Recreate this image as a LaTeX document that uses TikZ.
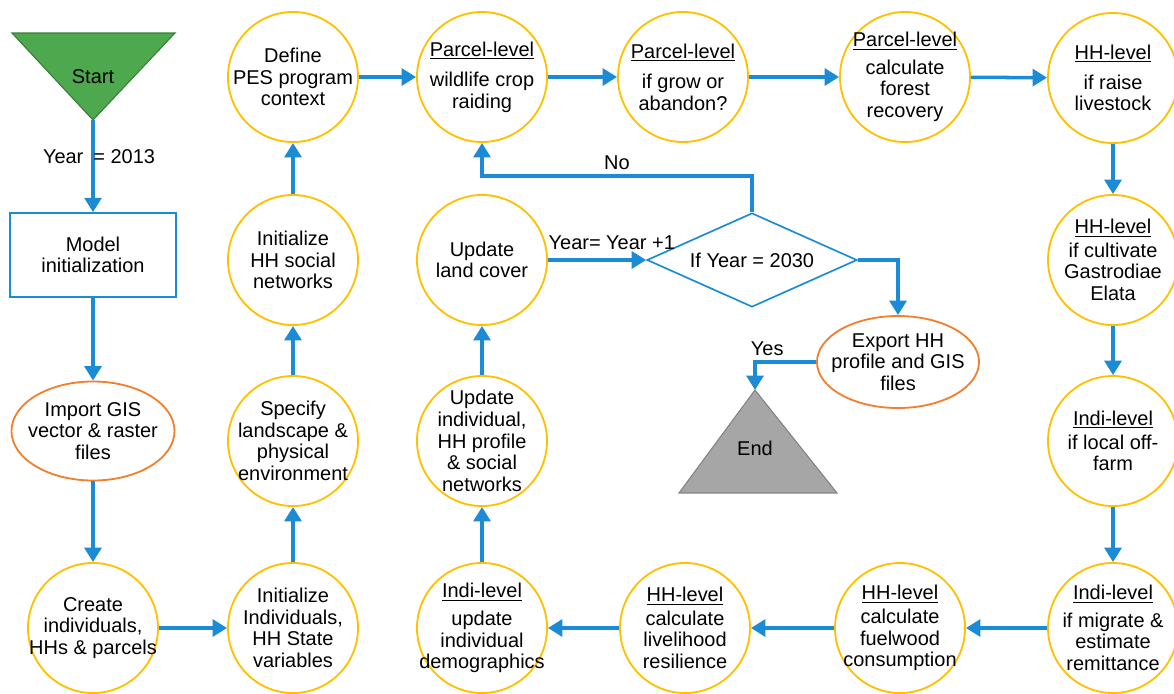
\documentclass[tikz,border=0pt]{standalone}
\usepackage{fontspec}
\setmainfont{Liberation Sans}
\usetikzlibrary{shapes.geometric,arrows.meta}

\definecolor{ringgold}{HTML}{FFC000}
\definecolor{ovalorange}{HTML}{F0802F}
\definecolor{flowblue}{HTML}{1B8BD6}
\definecolor{startgreen}{HTML}{4EA84E}
\definecolor{endgrey}{HTML}{A6A6A6}

\tikzset{
 every node/.style={font=\fontsize{14.2}{15.4}\selectfont},
 stage/.style={circle, draw=ringgold, line width=1.3pt, minimum size=3.25cm, inner sep=-0.3cm, align=center},
 io/.style={ellipse, draw=ovalorange, line width=1.3pt, inner sep=-0.3cm, align=center},
 flow/.style={draw=flowblue, line width=2.5pt, -{Triangle[length=0.36cm,width=0.42cm]}},
}

\begin{document}
\begin{tikzpicture}[x=0.025cm,y=-0.025cm]
 \useasboundingbox (0,0) rectangle (1174,693);

 % start and end
 \filldraw[fill=startgreen, draw=startgreen!75!black, line width=0.8pt] (12,33) -- (175,33) -- (93,120) -- cycle;
 \node (start) at (93,77) {Start};
 \coordinate (startTip) at (93,120);
 \filldraw[fill=endgrey, draw=endgrey!80!black, line width=0.8pt] (755,390) -- (837,493) -- (679,493) -- cycle;
 \node (end) at (755,448) {End};
 \coordinate (endTop) at (755,390);

 % left column
 \node[draw=flowblue, line width=1.2pt, minimum width=4.15cm, minimum height=2.1cm, align=center] (init) at (93,255) {Model\\initialization};
 \node[io, minimum width=4.075cm, minimum height=2.475cm] (gis) at (93,431) {Import GIS\\vector \& raster\\files};
 \node[stage] (create) at (93,628) {Create\\individuals,\\HHs \& parcels};

 \node[stage] (initind) at (293,628) {Initialize\\Individuals,\\HH State\\variables};
 \node[stage] (specify) at (293,441) {Specify\\landscape \&\\physical\\environment};
 \node[stage] (initsoc) at (293,260) {Initialize\\HH social\\networks};
 \node[stage] (define) at (293,77) {Define\\PES program\\context};

 % top row
 \node[stage] (raid) at (482,77) {\underline{Parcel-level}\\[0.22cm]wildlife crop\\raiding};
 \node[stage] (grow) at (683,77) {\underline{Parcel-level}\\[0.22cm]if grow or\\abandon?};
 \node[stage] (forest) at (905,77) {\underline{Parcel-level}\\[0.15cm]calculate\\forest\\recovery};
 \node[stage] (livestock) at (1113,78) {\underline{HH-level}\\[0.2cm]if raise\\livestock};

 % right column
 \node[stage] (gastro) at (1113,260) {\underline{HH-level}\\[0.05cm]if cultivate\\Gastrodiae\\Elata};
 \node[stage] (offfarm) at (1113,441) {\underline{Indi-level}\\[0.05cm]if local off-\\farm};
 \node[stage] (migrate) at (1113,628) {\underline{Indi-level}\\[0.15cm]if migrate \&\\estimate\\remittance};

 % bottom row
 \node[stage] (fuel) at (900,628) {\underline{HH-level}\\[0.05cm]calculate\\fuelwood\\consumption};
 \node[stage] (resil) at (685,628) {\underline{HH-level}\\[0.05cm]calculate\\livelihood\\resilience};
 \node[stage] (demog) at (482,628) {\underline{Indi-level}\\[0.15cm]update\\individual\\demographics};

 % middle
 \node[stage] (updind) at (482,441) {Update\\individual,\\HH profile\\\& social\\networks};
 \node[stage] (land) at (482,260) {Update\\land cover};
 \node[diamond, draw=flowblue, line width=1.2pt, aspect=2.2, inner sep=0pt, minimum width=5.25cm, minimum height=2.35cm] (check) at (752,260) {If Year = 2030};
 \node[io, minimum width=4.05cm, minimum height=2.3cm] (export) at (898,362) {Export HH\\profile and GIS\\files};

 \draw[flow] (startTip) -- node[pos=0.4, xshift=0.15cm] {Year\hspace{0.25cm}= 2013} (init.north);
 \draw[flow] (init) -- (gis);
 \draw[flow] (gis) -- (create);
 \draw[flow] (create) -- (initind);
 \draw[flow] (initind) -- (specify);
 \draw[flow] (specify) -- (initsoc);
 \draw[flow] (initsoc) -- (define);
 \draw[flow] (define) -- (raid);
 \draw[flow] (raid) -- (grow);
 \draw[flow] (grow) -- (forest);
 \draw[flow] (forest) -- (livestock);
 \draw[flow] (livestock) -- (gastro);
 \draw[flow] (gastro) -- (offfarm);
 \draw[flow] (offfarm) -- (migrate);
 \draw[flow] (migrate) -- (fuel);
 \draw[flow] (fuel) -- (resil);
 \draw[flow] (resil) -- (demog);
 \draw[flow] (demog) -- (updind);
 \draw[flow] (updind) -- (land);
 \draw[flow] (land.east) -- node[pos=0.65, above=0.1cm] {Year= Year +1} (check.west);
 \draw[flow] (check.north) -- ++(0,-36) -| node[pos=0.25, above] {No} (raid.south);
 \draw[flow] (check.east) -| (export.north);
 \draw[flow] (export.west) -| node[pos=0.4, above] {Yes} (endTop);
\end{tikzpicture}
\end{document}
